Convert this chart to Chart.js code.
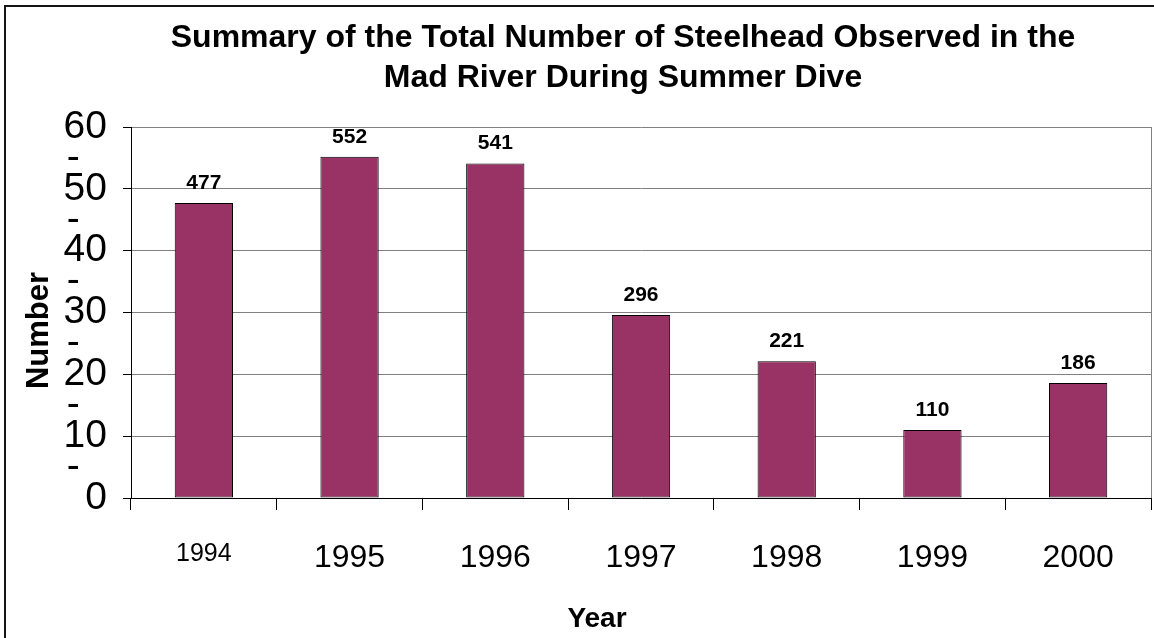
<!DOCTYPE html>
<html>
<head>
<meta charset="utf-8">
<title>Steelhead observed in the Mad River</title>
<script src="https://cdn.jsdelivr.net/npm/chart.js@4.4.0/dist/chart.umd.min.js"></script>
<style>
  html, body { margin: 0; padding: 0; background: #ffffff; }
  #wrap { position: relative; width: 1154px; height: 638px; overflow: hidden; }
  #frame {
    position: absolute; left: 4px; top: 5px; right: 0; bottom: 0;
    border-top: 2px solid #151515; border-left: 2px solid #151515;
    pointer-events: none;
  }
  canvas { display: block; }
</style>
</head>
<body>
<div id="wrap">
  <canvas id="chart" width="1154" height="638"></canvas>
  <div id="frame"></div>
</div>
<script>
// Survey years and total steelhead counted during the summer dive
const years = ['1994', '1995', '1996', '1997', '1998', '1999', '2000'];
const steelheadCounts = [477, 552, 541, 296, 221, 110, 186];

// Value-axis labels, one per half step of 50
const yTickLabels = ['0', '-', '10', '-', '20', '-', '30', '-', '40', '-', '50', '-', '60'];

const titleLines = [
  'Summary of the Total Number of Steelhead Observed in the',
  'Mad River During Summer Dive'
];
const xAxisTitle = 'Year';
const yAxisTitle = 'Number';

const FONT = '"Liberation Sans", Arial, Helvetica, sans-serif';
Chart.defaults.font.family = FONT;
Chart.defaults.color = '#000000';

const isMajor = v => v % 100 === 0;

// Value labels above each bar
const barValueLabels = {
  id: 'barValueLabels',
  afterDatasetsDraw(chart) {
    const { ctx } = chart;
    const meta = chart.getDatasetMeta(0);
    const data = chart.data.datasets[0].data;
    ctx.save();
    ctx.font = 'bold 21px ' + FONT;
    ctx.fillStyle = '#000000';
    ctx.textAlign = 'center';
    ctx.textBaseline = 'alphabetic';
    meta.data.forEach((bar, i) => {
      ctx.fillText(String(data[i]), bar.x, bar.y - 14);
    });
    ctx.restore();
  }
};

// Chart heading and axis titles
const headings = {
  id: 'headings',
  afterDraw(chart) {
    const { ctx, chartArea: a } = chart;
    const midX = (a.left + a.right) / 2;
    const midY = (a.top + a.bottom) / 2;
    ctx.save();
    ctx.fillStyle = '#000000';
    ctx.textAlign = 'center';
    ctx.textBaseline = 'alphabetic';

    ctx.font = 'bold 32px ' + FONT;
    titleLines.forEach((line, i) => ctx.fillText(line, midX - 18, 47 + i * 40));

    ctx.font = 'bold 28px ' + FONT;
    ctx.fillText(xAxisTitle, midX - 44, 627);

    ctx.font = 'bold 31px ' + FONT;
    ctx.translate(48, midY + 18);
    ctx.rotate(-Math.PI / 2);
    ctx.fillText(yAxisTitle, 0, 0);
    ctx.restore();
  }
};

new Chart(document.getElementById('chart'), {
  type: 'bar',
  data: {
    labels: years,
    datasets: [{
      data: steelheadCounts,
      backgroundColor: '#993366',
      borderColor: '#000000',
      borderWidth: 1,
      borderSkipped: false,
      inflateAmount: 0,
      barPercentage: 0.4,
      categoryPercentage: 1.0
    }]
  },
  options: {
    responsive: false,
    animation: false,
    events: [],
    layout: { padding: { top: 127, right: 3, left: 0, bottom: 0 } },
    plugins: {
      legend: { display: false },
      title: { display: false },
      tooltip: { enabled: false }
    },
    scales: {
      x: {
        afterFit(scale) { scale.height = 140; },
        border: { display: true, color: '#000000', width: 1 },
        grid: {
          offset: true,
          drawOnChartArea: true,
          color: ctx => (ctx.type === 'scale' ? '#808080' : 'rgba(0,0,0,0)'),
          tickColor: '#000000',
          tickLength: 12
        },
        ticks: {
          autoSkip: false,
          maxRotation: 0,
          padding: 29,
          color: '#000000',
          font: ctx => ({ family: FONT, size: ctx.index === 0 ? 25 : 32 })
        }
      },
      y: {
        min: 0,
        max: 600,
        afterFit(scale) { scale.width = 131; },
        border: { display: true, color: '#000000', width: 1 },
        grid: {
          color: ctx => (ctx.tick && isMajor(ctx.tick.value) ? '#808080' : 'rgba(0,0,0,0)'),
          tickColor: ctx => (ctx.tick && isMajor(ctx.tick.value) ? '#000000' : 'rgba(0,0,0,0)'),
          tickLength: 8
        },
        ticks: {
          stepSize: 50,
          autoSkip: false,
          padding: 16,
          color: '#000000',
          font: { family: FONT, size: 39 },
          callback: value => {
            const label = yTickLabels[Math.round(value / 50)];
            return label === '-' ? '-\u2002\u2009' : label;
          }
        }
      }
    }
  },
  plugins: [barValueLabels, headings]
});
</script>
</body>
</html>
